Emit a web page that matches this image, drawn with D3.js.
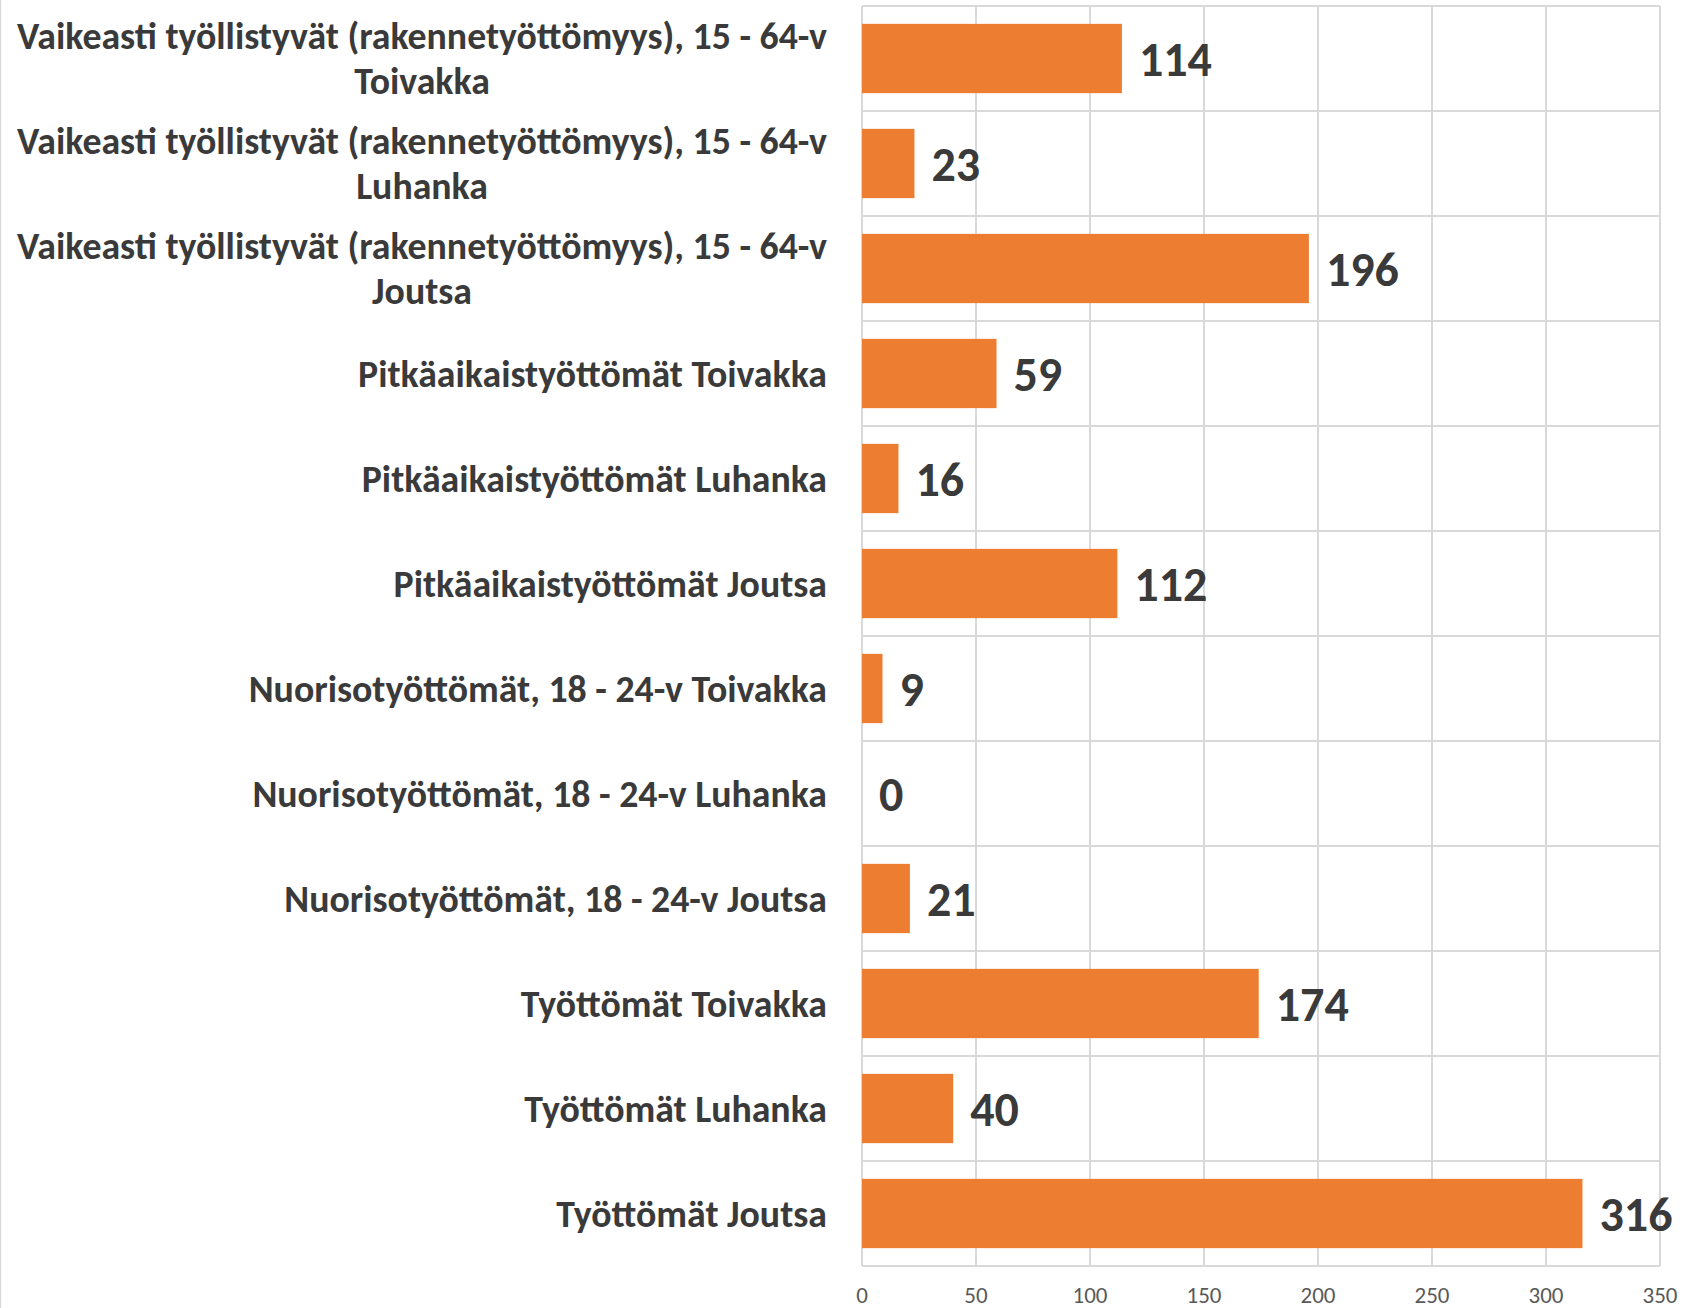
<!DOCTYPE html>
<html>
<head>
<meta charset="utf-8">
<script src="https://cdn.jsdelivr.net/npm/d3@7"></script>
<style>
  body { margin: 0; background: #fff; }
  text { font-family: Carlito, Calibri, Lato, sans-serif; }
</style>
</head>
<body>
<svg id="chart" width="1682" height="1308"></svg>
<script>
var categories = [
  ['Vaikeasti työllistyvät (rakennetyöttömyys), 15 - 64-v', 'Toivakka'],
  ['Vaikeasti työllistyvät (rakennetyöttömyys), 15 - 64-v', 'Luhanka'],
  ['Vaikeasti työllistyvät (rakennetyöttömyys), 15 - 64-v', 'Joutsa'],
  ['Pitkäaikaistyöttömät Toivakka'],
  ['Pitkäaikaistyöttömät Luhanka'],
  ['Pitkäaikaistyöttömät Joutsa'],
  ['Nuorisotyöttömät, 18 - 24-v Toivakka'],
  ['Nuorisotyöttömät, 18 - 24-v Luhanka'],
  ['Nuorisotyöttömät, 18 - 24-v Joutsa'],
  ['Työttömät Toivakka'],
  ['Työttömät Luhanka'],
  ['Työttömät Joutsa']
]
var values = [114, 23, 196, 59, 16, 112, 9, 0, 21, 174, 40, 316]
var xTicks = [0, 50, 100, 150, 200, 250, 300, 350]

var svg = d3.select('#chart')
  , plotLeft = 862, plotRight = 1660, plotTop = 6, plotBottom = 1266
  , labelRight = 827
  , gridColor = '#d9d9d9'

var rows = categories.map(function(c, i) { return { lines: c, value: values[i], i: i } })

var x = d3.scaleLinear().domain([0, 350]).range([plotLeft, plotRight])
var y = d3.scaleBand().domain(d3.range(rows.length)).range([plotTop, plotBottom]).paddingInner(0.34).paddingOuter(0.17)
var band = d3.scaleBand().domain(d3.range(rows.length)).range([plotTop, plotBottom])

// chart border (left edge visible)
svg.append('line').attr('x1', 0.5).attr('x2', 0.5).attr('y1', 0).attr('y2', 1308)
  .attr('stroke', gridColor).attr('stroke-width', 1.5)

// vertical gridlines
svg.append('g').selectAll('line').data(xTicks).enter().append('line')
  .attr('x1', function(d) { return x(d) }).attr('x2', function(d) { return x(d) })
  .attr('y1', plotTop).attr('y2', plotBottom)
  .attr('stroke', gridColor).attr('stroke-width', 2)

// horizontal gridlines between categories
svg.append('g').selectAll('line').data(d3.range(rows.length + 1)).enter().append('line')
  .attr('x1', plotLeft).attr('x2', plotRight)
  .attr('y1', function(i) { return plotTop + i * band.step() })
  .attr('y2', function(i) { return plotTop + i * band.step() })
  .attr('stroke', gridColor).attr('stroke-width', 2)

// bars
svg.append('g').selectAll('rect').data(rows).enter().append('rect')
  .attr('x', x(0))
  .attr('y', function(d) { return y(d.i) })
  .attr('width', function(d) { return x(d.value) - x(0) })
  .attr('height', y.bandwidth())
  .attr('fill', '#ed7d31')

// value labels
svg.append('g').selectAll('text').data(rows).enter().append('text')
  .attr('x', function(d) { return x(d.value) + 17 })
  .attr('y', function(d) { return band(d.i) + band.bandwidth() / 2 + 17 })
  .attr('font-size', 48).attr('font-weight', 'bold').attr('fill', '#3a3a3a')
  .text(function(d) { return d.value })

// category labels
var lineGap = 45
var cat = svg.append('g').selectAll('g').data(rows).enter().append('g')
cat.each(function(d) {
  var g = d3.select(this)
    , n = d.lines.length
    , cy = band(d.i) + band.bandwidth() / 2
  var texts = d.lines.map(function(line, k) {
    return g.append('text')
      .attr('y', cy + (k - (n - 1) / 2) * lineGap + 13)
      .attr('font-size', 37.8).attr('font-weight', 'bold').attr('fill', '#3a3a3a')
      .text(line)
  })
  var widths = texts.map(function(t) { return t.node().getComputedTextLength() })
    , maxW = d3.max(widths)
  texts.forEach(function(t) {
    t.attr('x', labelRight - maxW / 2).attr('text-anchor', 'middle')
  })
})

// x axis tick labels
svg.append('g').selectAll('text').data(xTicks).enter().append('text')
  .attr('x', function(d) { return x(d) })
  .attr('y', 1303)
  .attr('text-anchor', 'middle')
  .attr('font-size', 23).attr('fill', '#595959')
  .text(function(d) { return d })
</script>
</body>
</html>
